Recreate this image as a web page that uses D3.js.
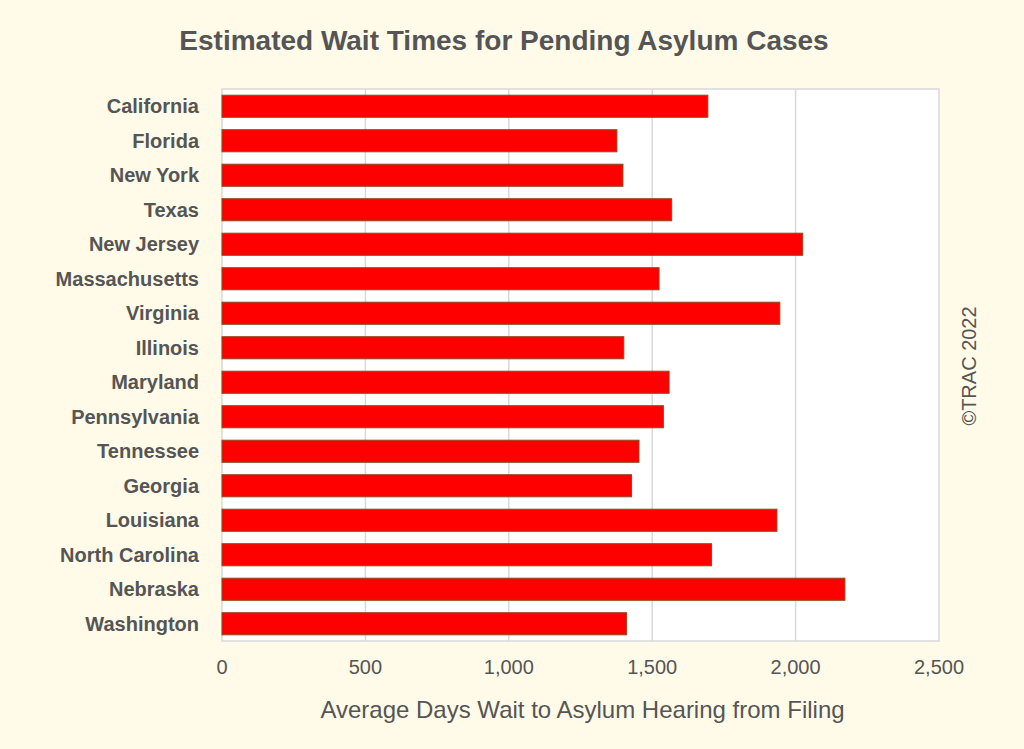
<!DOCTYPE html>
<html>
<head>
<meta charset="utf-8">
<script src="https://cdn.jsdelivr.net/npm/d3@7"></script>
<style>
  body { margin: 0; background: #fffbe8; }
  text { font-family: "Liberation Sans", Arial, sans-serif; fill: #555; }
</style>
</head>
<body>
<svg id="chart" width="1024" height="749"></svg>
<script>
const states = ['California', 'Florida', 'New York', 'Texas', 'New Jersey', 'Massachusetts',
  'Virginia', 'Illinois', 'Maryland', 'Pennsylvania', 'Tennessee', 'Georgia', 'Louisiana',
  'North Carolina', 'Nebraska', 'Washington'];
const waitDays = [1694, 1377, 1398, 1568, 2025, 1524, 1945, 1401, 1559, 1539, 1454, 1428,
  1935, 1707, 2172, 1411];
const xTicks = [0, 500, 1000, 1500, 2000, 2500];

const svg = d3.select('#chart');
const m = {left: 222, right: 939, top: 89, bottom: 641};

const x = d3.scaleLinear().domain([0, 2500]).range([m.left, m.right]);
const y = d3.scaleBand().domain(states).range([m.top, m.bottom]).paddingInner(0.36).paddingOuter(0.18);

// plot area
svg.append('rect')
  .attr('x', m.left).attr('y', m.top)
  .attr('width', m.right - m.left).attr('height', m.bottom - m.top)
  .attr('fill', '#fff').attr('stroke', '#d9d9d9').attr('stroke-width', 1.5);

// gridlines
svg.selectAll('.grid').data(xTicks.slice(1, -1)).enter()
  .append('line')
  .attr('x1', d => x(d)).attr('x2', d => x(d))
  .attr('y1', m.top).attr('y2', m.bottom)
  .attr('stroke', '#d9d9d9').attr('stroke-width', 1.5);

// bars
svg.selectAll('.bar').data(states).enter()
  .append('rect')
  .attr('x', x(0))
  .attr('y', d => y(d))
  .attr('width', (d, i) => x(waitDays[i]) - x(0))
  .attr('height', y.bandwidth())
  .attr('fill', '#ff0000')
  .attr('stroke', '#8a4a20').attr('stroke-width', 1);

// category labels
svg.selectAll('.cat').data(states).enter()
  .append('text')
  .attr('x', 199)
  .attr('y', d => y(d) + y.bandwidth() / 2)
  .attr('dy', '0.35em')
  .attr('text-anchor', 'end')
  .attr('font-size', 20).attr('font-weight', 'bold')
  .text(d => d);

// x tick labels
svg.selectAll('.tick').data(xTicks).enter()
  .append('text')
  .attr('x', d => x(d)).attr('y', 674)
  .attr('text-anchor', 'middle')
  .attr('font-size', 20)
  .text(d => d3.format(',')(d));

svg.append('text')
  .attr('x', (m.left + m.right) / 2 + 2).attr('y', 718)
  .attr('text-anchor', 'middle').attr('font-size', 24)
  .text('Average Days Wait to Asylum Hearing from Filing');

svg.append('text')
  .attr('x', 504).attr('y', 50)
  .attr('text-anchor', 'middle').attr('font-size', 28).attr('font-weight', 'bold')
  .text('Estimated Wait Times for Pending Asylum Cases');

svg.append('text')
  .attr('transform', 'translate(976,366) rotate(-90)')
  .attr('text-anchor', 'middle').attr('font-size', 20)
  .text('©TRAC 2022');
</script>
</body>
</html>
